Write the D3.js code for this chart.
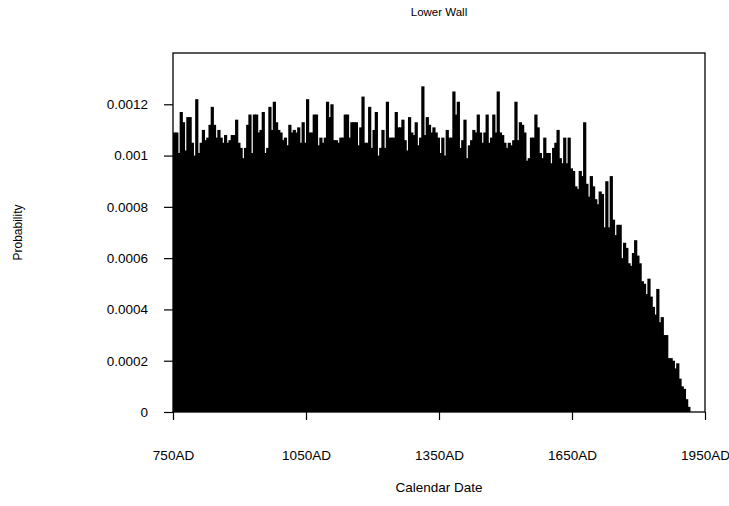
<!DOCTYPE html>
<html>
    <head>
        <meta charset="utf-8">
        <script type="text/javascript" src="https://cdnjs.cloudflare.com/ajax/libs/d3/7.8.5/d3.min.js"></script>
        <style>
        body {
            margin: 0;
            background: #fff;
        }
        text {
            font-family: "Liberation Sans", Arial, sans-serif;
            fill: #000;
        }
        .axis path {
            display: none;
        }
        .axis line {
            stroke: #000;
            stroke-width: 1.2;
        }
        .axis text {
            font-size: 13.5px;
        }
        </style>
    </head>
    <body>
        <script type="text/javascript">
        // start year of each 5 year bin
        var binStart = 750, binWidth = 5;

        // probability per bin (750AD .. 1915AD)
        var prob = [
            0.00109, 0.00109, 0.00101, 0.00117, 0.00113, 0.00102, 0.00115, 0.00115, 0.00105, 0.00100,
            0.00122, 0.00101, 0.00105, 0.00110, 0.00106, 0.00107, 0.00112, 0.00119, 0.00112, 0.00107,
            0.00110, 0.00107, 0.00105, 0.00108, 0.00105, 0.00106, 0.00108, 0.00108, 0.00114, 0.00105,
            0.00103, 0.00099, 0.00103, 0.00112, 0.00116, 0.00101, 0.00116, 0.00116, 0.00109, 0.00110,
            0.00117, 0.00101, 0.00103, 0.00119, 0.00110, 0.00121, 0.00113, 0.00110, 0.00109, 0.00106,
            0.00107, 0.00104, 0.00112, 0.00109, 0.00110, 0.00109, 0.00111, 0.00105, 0.00113, 0.00105,
            0.00122, 0.00109, 0.00109, 0.00116, 0.00116, 0.00104, 0.00107, 0.00105, 0.00107, 0.00121,
            0.00115, 0.00120, 0.00106, 0.00106, 0.00105, 0.00107, 0.00107, 0.00116, 0.00116, 0.00107,
            0.00113,
            0.00113, 0.00113, 0.00104, 0.00111, 0.00123, 0.00105, 0.00105, 0.00119, 0.00103, 0.00110,
            0.00117, 0.00100, 0.00103, 0.00110, 0.00103, 0.00121, 0.00107, 0.00107, 0.00107, 0.00117,
            0.00111, 0.00111, 0.00114, 0.00106, 0.00102, 0.00115, 0.00109, 0.00108, 0.00113, 0.00104,
            0.00107, 0.00127, 0.00108, 0.00115, 0.00112, 0.00109, 0.00111, 0.00109, 0.00107, 0.00101,
            0.00107, 0.00100, 0.00110, 0.00107, 0.00107, 0.00125, 0.00116, 0.00121, 0.00103, 0.00106,
            0.00114, 0.00099, 0.00104, 0.00106, 0.00110, 0.00109, 0.00116, 0.00109, 0.00105, 0.00109,
            0.00116, 0.00105, 0.00107, 0.00116, 0.00109, 0.00125, 0.00109, 0.00108, 0.00105, 0.00103,
            0.00105, 0.00104, 0.00106, 0.00121, 0.00106, 0.00113, 0.00112, 0.00109, 0.00098, 0.00099,
            0.00107,
            0.00107, 0.00116, 0.00111, 0.00101, 0.00099, 0.00107, 0.00101, 0.00101, 0.00097, 0.00103,
            0.00105, 0.00110, 0.00099, 0.00097, 0.00107, 0.00097, 0.00107, 0.00095, 0.00094, 0.00088,
            0.00087, 0.00094, 0.00092, 0.00113, 0.00089, 0.00084, 0.00092, 0.00088, 0.00083, 0.00081,
            0.00086, 0.00085, 0.00072, 0.00090, 0.00072, 0.00092, 0.00075, 0.00069, 0.00073, 0.00073,
            0.00060,
            0.00066, 0.00064, 0.00058, 0.00057, 0.00062, 0.00067, 0.00061, 0.00058, 0.00051, 0.00050,
            0.00046, 0.00052, 0.00045, 0.00041, 0.00038, 0.00048, 0.00035, 0.00037, 0.00030, 0.00030,
            0.00021, 0.00021, 0.00020, 0.00017, 0.00019, 0.00013, 0.00010, 0.00009, 0.00005, 0.00002
        ];

        var xTicks = [750, 1050, 1350, 1650, 1950];
        var yTicks = [0, 0.0002, 0.0004, 0.0006, 0.0008, 0.001, 0.0012];

        var title = "Lower Wall",
            xLabel = "Calendar Date",
            yLabel = "Probability";

        // plot box in page pixels
        var W = 729, H = 506,
            boxL = 173, boxR = 705, boxT = 53, boxB = 412;

        var xScale = d3.scaleLinear()
                        .domain([750, 1950])
                        .range([boxL, boxR]);

        var yScale = d3.scaleLinear()
                        .domain([0, 0.0014])
                        .range([boxB, boxT]);

        var svg = d3.select("body")
                    .append("svg")
                    .attr("width", W)
                    .attr("height", H);

        // the bars (a pixel wider so neighbours leave no grey seam)
        svg.append("g")
            .selectAll("rect")
            .data(prob)
          .enter().append("rect")
            .attr("x", function(d, i) { return xScale(binStart + i * binWidth); })
            .attr("y", function(d) { return yScale(d); })
            .attr("width", function(d, i) {
                return xScale(binStart + (i + 1) * binWidth) - xScale(binStart + i * binWidth) + 1;
            })
            .attr("height", function(d) { return boxB - yScale(d); })
            .attr("fill", "#000");

        // y axis
        svg.append("g")
            .attr("class", "axis")
            .attr("transform", "translate(" + boxL + ",0)")
            .call(d3.axisLeft(yScale)
                    .tickValues(yTicks)
                    .tickSize(9)
                    .tickPadding(16)
                    .tickFormat(function(d) { return String(d); }));

        // x axis
        var xAxis = svg.append("g")
            .attr("class", "axis")
            .attr("transform", "translate(0," + boxB + ")")
            .call(d3.axisBottom(xScale)
                    .tickValues(xTicks)
                    .tickSize(8)
                    .tickFormat(function(d) { return d + "AD"; }));
        xAxis.selectAll("text")
            .attr("y", 48)
            .attr("dy", "0");

        // plot frame
        svg.append("rect")
            .attr("x", boxL)
            .attr("y", boxT)
            .attr("width", boxR - boxL)
            .attr("height", boxB - boxT)
            .attr("fill", "none")
            .attr("stroke", "#000")
            .attr("stroke-width", 1.3);

        svg.append("text")
            .attr("x", (boxL + boxR) / 2)
            .attr("y", 16)
            .attr("text-anchor", "middle")
            .style("font-size", "11.5px")
            .text(title);

        svg.append("text")
            .attr("x", (boxL + boxR) / 2)
            .attr("y", 492)
            .attr("text-anchor", "middle")
            .style("font-size", "13.5px")
            .text(xLabel);

        svg.append("text")
            .attr("transform", "translate(22," + ((boxT + boxB) / 2) + ") rotate(-90)")
            .attr("text-anchor", "middle")
            .style("font-size", "12px")
            .text(yLabel);
        </script>
    </body>
</html>
